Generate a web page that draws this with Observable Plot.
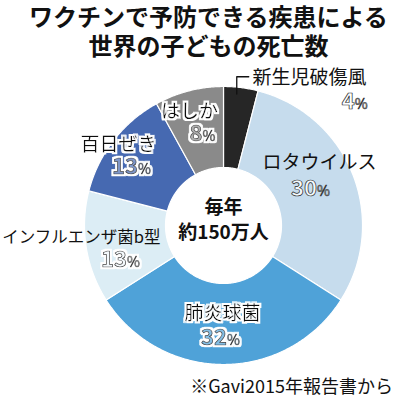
<!DOCTYPE html>
<html>
<head>
<meta charset="utf-8">
<script src="https://cdn.jsdelivr.net/npm/d3@7"></script>
<script src="https://cdn.jsdelivr.net/npm/@observablehq/plot@0.6"></script>
<style>
  body { margin: 0; background: #fff; font-family: "Noto Sans CJK JP", sans-serif; }
  #wrap { position: relative; width: 400px; height: 398px; overflow: hidden; background: #fff; }
  #title { position: absolute; left: 29px; top: 1px; display: inline-block;
           text-align: center; font-size: 24px; line-height: 29px; font-weight: 700; color: #111; white-space: nowrap; }
  #chart { position: absolute; left: 0; top: 60px; }
  #caption { position: absolute; right: 7px; top: 375px; font-size: 18px; line-height: 20px; color: #111; white-space: nowrap; }
</style>
</head>
<body>
<div id="wrap">
  <div id="title">ワクチンで予防できる疾患による<br>世界の子どもの死亡数</div>
  <div id="chart"></div>
  <div id="caption">※Gavi2015年報告書から</div>
</div>
<script>
// ---- data ----
const diseases = ["新生児破傷風", "ロタウイルス", "肺炎球菌", "インフルエンザ菌b型", "百日ぜき", "はしか"];
const shares = [4, 30, 32, 13, 13, 8];
const centerLines = ["毎年", "約150万人"];

// ---- styles / layout ----
const colors = ["#262626", "#c6dced", "#4fa2d8", "#dcedf5", "#4669b1", "#8a8a8a"];
const darkSlice = [false, false, true, false, true, true];
// label offsets (px) from each slice's mid-radius centroid
const layout = [
  {ndx: 16.7, ndy: -50.3, nAnchor: "start", pdx: 131.7, pdy: -26.3, pAnchor: "end", outside: true},
  {ndx: 4.4, ndy: -26.7, nAnchor: "middle", pdx: -4.6, pdy: -0.7, pAnchor: "middle"},
  {ndx: -1, ndy: -10.5, nAnchor: "middle", pdx: -3, pdy: 13.5, pAnchor: "middle"},
  {ndx: 34.3, ndy: -3.4, nAnchor: "end", pdx: -5.7, pdy: 18.6, pAnchor: "middle"},
  {ndx: -27.2, ndy: -20.6, nAnchor: "middle", pdx: -14.2, pdy: 1.4, pAnchor: "middle"},
  {ndx: -9.5, ndy: -18.6, nAnchor: "middle", pdx: 3.5, pdy: 3.4, pAnchor: "middle"}
];

const W = 400, H = 316, R = 139, CX = 223, CY = 165;
const rInner = 58 / R;
const rMid = (1 + rInner) / 2;

const arcs = d3.pie().sort(null).value(d => d)(shares);

function slicePoints(a0, a1) {
  const n = Math.max(4, Math.ceil((a1 - a0) / (Math.PI / 360)));
  const pts = [];
  for (let i = 0; i <= n; i++) { const a = a0 + (a1 - a0) * i / n; pts.push({x: Math.sin(a), y: Math.cos(a)}); }
  for (let i = n; i >= 0; i--) { const a = a0 + (a1 - a0) * i / n; pts.push({x: rInner * Math.sin(a), y: rInner * Math.cos(a)}); }
  pts.push(pts[0]);
  return pts;
}

const rows = diseases.map((name, i) => {
  const a = arcs[i];
  const mid = (a.startAngle + a.endAngle) / 2;
  const cx = rMid * Math.sin(mid), cy = rMid * Math.cos(mid);
  const L = layout[i];
  return {
    name, share: shares[i], pct: shares[i] + "%", color: colors[i], dark: darkSlice[i],
    nx: cx + L.ndx / R, ny: cy - L.ndy / R, nAnchor: L.nAnchor,
    px: cx + L.pdx / R, py: cy - L.pdy / R, pAnchor: L.pAnchor,
    pfill: L.outside ? "#ffffff" : (darkSlice[i] ? d3.interpolateRgb(colors[i], "#ffffff")(0.3) : "#f4f9fc"),
    a0: a.startAngle, a1: a.endAngle
  };
});
const haloTexts = new Set(rows.filter(r => r.dark).flatMap(r => [r.name, String(r.share)]));

// leader for the outside label (tetanus)
const t = rows[0];
const la = t.a0 + (t.a1 - t.a0) * 0.4;
const lx = 0.95 * Math.sin(la);
const leader = [
  {x: lx, y: 0.95 * Math.cos(la)},
  {x: lx, y: 1.07},
  {x: lx + 12 / R, y: 1.07}
];

const sliceMarks = rows.map(r => Plot.line(slicePoints(r.a0, r.a1), {
  x: "x", y: "y", fill: r.color, stroke: "#ffffff", strokeWidth: 1.2, curve: "linear"
}));

const nameMarks = [];
for (const anchor of ["start", "middle", "end"]) {
  const sub = rows.filter(r => r.nAnchor === anchor);
  if (!sub.length) continue;
  nameMarks.push(Plot.text(sub, {
    x: "nx", y: "ny", text: "name", textAnchor: anchor, fontSize: anchor === "end" ? 16.5 : 19, fill: "#111111"
  }));
}

const pctMarks = [];
for (const anchor of ["middle", "end"]) {
  const sub = rows.filter(r => r.pAnchor === anchor);
  if (!sub.length) continue;
  pctMarks.push(Plot.text(sub, {
    x: "px", y: "py", text: "pct", textAnchor: anchor, fontSize: 22, fontWeight: "bold",
    fill: "pfill", stroke: "#2a2a2a", strokeWidth: 0.7, paintOrder: "normal"
  }));
}

const centerRows = centerLines.map((s, i) => ({s, y: i === 0 ? 18 / R : -7 / R}));

const plot = Plot.plot({
  width: W, height: H,
  marginLeft: CX - R, marginRight: W - CX - R,
  marginTop: CY - R, marginBottom: H - CY - R,
  x: {domain: [-1, 1], axis: null},
  y: {domain: [-1, 1], axis: null},
  color: {type: "identity"},
  style: {fontFamily: "'Noto Sans CJK JP', sans-serif", overflow: "visible", background: "transparent"},
  marks: [
    ...sliceMarks,
    Plot.line(leader, {x: "x", y: "y", stroke: "#111111", strokeWidth: 1.3}),
    ...nameMarks,
    ...pctMarks,
    Plot.text(centerRows, {x: () => 0, y: "y", text: "s", fontSize: 19, fontWeight: "bold", fill: "#111111"})
  ]
});

const svg = d3.select(plot.tagName.toLowerCase() === "svg" ? plot : plot.querySelector("svg"));
const filt = svg.insert("defs", ":first-child").append("filter").attr("id", "whitehalo")
  .attr("x", "-20%").attr("y", "-40%").attr("width", "140%").attr("height", "180%");
filt.append("feMorphology").attr("in", "SourceAlpha").attr("operator", "dilate").attr("radius", 1.6).attr("result", "d");
filt.append("feFlood").attr("flood-color", "#ffffff").attr("result", "w");
filt.append("feComposite").attr("in", "w").attr("in2", "d").attr("operator", "in").attr("result", "h");
const merge = filt.append("feMerge");
merge.append("feMergeNode").attr("in", "h");
merge.append("feMergeNode").attr("in", "SourceGraphic");

svg.selectAll("text").each(function() {
  const el = d3.select(this);
  let s = el.text();
  if (s.endsWith("%")) {
    s = s.slice(0, -1);
    el.text(s);
    el.append("tspan").attr("font-size", 14).attr("font-weight", "normal").attr("stroke-width", 0.6).text("%");
  }
  if (haloTexts.has(s)) el.attr("filter", "url(#whitehalo)");
});

document.getElementById("chart").appendChild(plot);
</script>
</body>
</html>
